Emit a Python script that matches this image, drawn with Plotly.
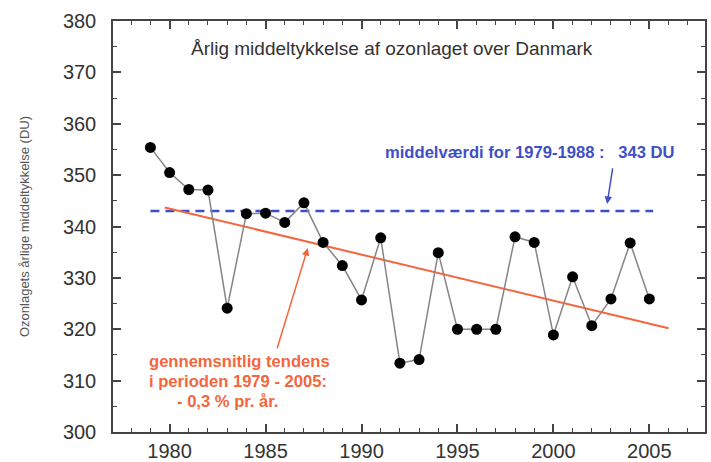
import plotly.graph_objects as go

years = list(range(1979, 2006))
ozone_du = [355.4, 350.5, 347.2, 347.1, 324.1, 342.5, 342.6, 340.8, 344.6, 336.9,
            332.4, 325.7, 337.8, 313.4, 314.1, 334.9, 320.0, 320.0, 320.0, 338.0,
            336.9, 318.9, 330.2, 320.7, 325.9, 336.8, 325.9]

mean_years = [1979, 2005.2]
mean_value = 343

trend_years = [1979.75, 2006.0]
trend_values = [343.7, 320.2]

title_text = "Årlig middeltykkelse af ozonlaget over Danmark"
mean_label = "middelværdi for 1979-1988 :   343 DU"
trend_lines = ["gennemsnitlig tendens", "i perioden 1979 - 2005:", "- 0,3 % pr. år."]
y_title = "Ozonlagets årlige middeltykkelse (DU)"

RED = "#f4663e"
BLUE = "#3f50c4"
FONT = "Liberation Sans, Arial, sans-serif"

fig = go.Figure()

fig.add_trace(go.Scatter(
    x=mean_years, y=[mean_value, mean_value], mode="lines",
    line=dict(color=BLUE, width=2.5, dash="9px,6px"), hoverinfo="skip"))

fig.add_trace(go.Scatter(
    x=trend_years, y=trend_values, mode="lines",
    line=dict(color=RED, width=2), hoverinfo="skip"))

fig.add_trace(go.Scatter(
    x=years, y=ozone_du, mode="lines+markers",
    line=dict(color="#858585", width=1.5),
    marker=dict(color="black", size=11)))

# title inside plot
fig.add_annotation(x=1991.6, y=374.7, text=title_text, showarrow=False,
                   font=dict(family=FONT, size=19, color="#333333"))

# blue mean annotation + arrow
fig.add_annotation(x=1998.8, y=354.5, text="<b>" + mean_label + "</b>", showarrow=False,
                   font=dict(family=FONT, size=16.6, color=BLUE))
fig.add_annotation(x=2002.8, y=344.4, ax=2003.1, ay=351.6, axref="x", ayref="y",
                   xref="x", yref="y", text="", showarrow=True,
                   arrowhead=2, arrowsize=1, arrowwidth=1.5, arrowcolor=BLUE)

# red trend annotation + arrow
fig.add_annotation(x=1987.2, y=335.8, ax=1985.58, ay=316.0, axref="x", ayref="y",
                   xref="x", yref="y", text="", showarrow=True,
                   arrowhead=2, arrowsize=1, arrowwidth=1.5, arrowcolor=RED)
line_pos = [(146.7, 361.7), (146.7, 381.7), (175.0, 401.7)]
W, H = 711, 462
L, R, T, B = 113, 6, 21, 30
pw, ph = W - L - R, H - T - B
for txt, (px, py) in zip(trend_lines, line_pos):
    fig.add_annotation(x=(px - L) / pw, y=(H - py - B) / ph, xref="paper", yref="paper",
                       xanchor="left", yanchor="middle", text="<b>" + txt + "</b>",
                       showarrow=False, font=dict(family=FONT, size=16.6, color=RED))

fig.update_layout(
    width=W, height=H,
    margin=dict(l=L, r=R, t=T, b=B),
    plot_bgcolor="white", paper_bgcolor="white",
    showlegend=False,
    font=dict(family=FONT, color="#333333"),
)

fig.update_xaxes(
    range=[1977.05, 2007.9], showgrid=False, zeroline=False, automargin=False,
    showline=True, linecolor="#444444", linewidth=1.5, mirror="allticks",
    ticks="inside", ticklen=8, tickwidth=1.5, tickcolor="#444444",
    tickmode="array", tickvals=[1980, 1985, 1990, 1995, 2000, 2005],
    ticklabelstandoff=0,
    tickfont=dict(size=20, color="#333333"),
    minor=dict(ticks="inside", ticklen=4, tickwidth=1.2, tickcolor="#444444", dtick=1, tick0=1980),
)
fig.update_yaxes(
    range=[300, 380], showgrid=False, zeroline=False, automargin=False,
    showline=True, linecolor="#444444", linewidth=1.5, mirror="allticks",
    ticks="inside", ticklen=8, tickwidth=1.5, tickcolor="#444444",
    dtick=10, tick0=300, ticklabelstandoff=11,
    tickfont=dict(size=20, color="#333333"),
    minor=dict(ticks="inside", ticklen=4, tickwidth=1.2, tickcolor="#444444", dtick=5),
    title=dict(text=y_title, font=dict(size=13, color="#555555"), standoff=30),
)

fig.write_html("out.html")
